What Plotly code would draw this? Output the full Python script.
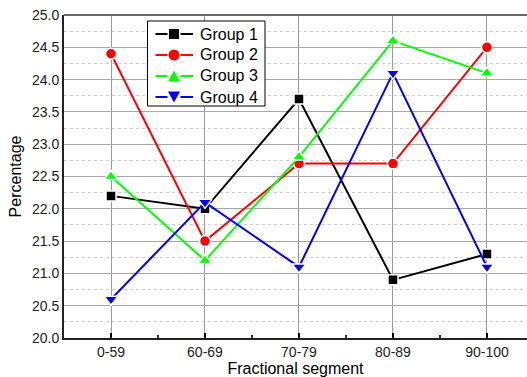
import plotly.graph_objects as go

categories = ["0-59", "60-69", "70-79", "80-89", "90-100"]
group1 = [22.2, 22.0, 23.7, 20.9, 21.3]
group2 = [24.4, 21.5, 22.7, 22.7, 24.5]
group3 = [22.5, 21.2, 22.8, 24.6, 24.1]
group4 = [20.6, 22.1, 21.1, 24.1, 21.1]
y_ticks = [20.0, 20.5, 21.0, 21.5, 22.0, 22.5, 23.0, 23.5, 24.0, 24.5, 25.0]

series = [
    ("Group 1", group1, "#000000", "square", 10),
    ("Group 2", group2, "#ff0000", "circle", 11),
    ("Group 3", group3, "#00ff00", "triangle-up", 12),
    ("Group 4", group4, "#0000ff", "triangle-down", 12),
]

W, H = 527, 377
ML, MR, MT, MB = 64, 0, 15, 39
PW, PH = W - ML - MR, H - MT - MB


def px(X):
    return (X - ML) / PW


def py(Y):
    return (H - MB - Y) / PH


fig = go.Figure()
xs = list(range(len(categories)))
for name, vals, col, sym, sz in series:
    fig.add_trace(go.Scatter(
        x=xs, y=vals, name=name, mode="lines+markers",
        line=dict(color=col, width=2),
        marker=dict(symbol=sym, size=sz, color=col, line=dict(color="white", width=1.5)),
        showlegend=False,
    ))

font = "Liberation Sans, Arial, sans-serif"

shapes = []
annotations = []
# top border line
shapes.append(dict(type="line", xref="paper", yref="paper", x0=0, x1=1, y0=1, y1=1,
                   line=dict(color="#666666", width=2)))

# custom legend (layout, built from the series list)
bx0, bx1, by0, by1 = 147.5, 265, 21, 106
shapes.append(dict(type="rect", xref="paper", yref="paper",
                   x0=px(bx0), x1=px(bx1), y0=py(by1), y1=py(by0),
                   line=dict(color="#000000", width=1), fillcolor="white", layer="above"))
for i, (name, vals, col, sym, sz) in enumerate(series):
    cy = 34 + 21 * i
    cx = 174
    for (a, b) in [(155.5, 167.5), (180.5, 193)]:
        shapes.append(dict(type="line", xref="paper", yref="paper",
                           x0=px(a), x1=px(b), y0=py(cy), y1=py(cy),
                           line=dict(color=col, width=2)))
    if sym == "square":
        r = 5
        shapes.append(dict(type="rect", xref="paper", yref="paper",
                           x0=px(cx - r), x1=px(cx + r), y0=py(cy + r), y1=py(cy - r),
                           line=dict(width=0), fillcolor=col))
    elif sym == "circle":
        r = 5.5
        shapes.append(dict(type="circle", xref="paper", yref="paper",
                           x0=px(cx - r), x1=px(cx + r), y0=py(cy + r), y1=py(cy - r),
                           line=dict(width=0), fillcolor=col))
    else:
        hw, hh = 6, 5.5
        if sym == "triangle-up":
            pts = [(cx - hw, cy + hh), (cx + hw, cy + hh), (cx, cy - hh)]
        else:
            pts = [(cx - hw, cy - hh), (cx + hw, cy - hh), (cx, cy + hh)]
        path = "M " + " L ".join(f"{px(a):.5f},{py(b):.5f}" for a, b in pts) + " Z"
        shapes.append(dict(type="path", xref="paper", yref="paper", path=path,
                           line=dict(width=0), fillcolor=col))
    annotations.append(dict(xref="paper", yref="paper", x=px(198), y=py(cy),
                            xanchor="left", yanchor="middle", text=name, showarrow=False,
                            font=dict(size=16, color="#000000", family=font)))

fig.update_layout(
    width=W, height=H,
    margin=dict(l=ML, r=MR, t=MT, b=MB),
    paper_bgcolor="white", plot_bgcolor="white",
    font=dict(family=font, size=14, color="#222222"),
    showlegend=False,
    shapes=shapes,
    annotations=annotations,
    xaxis=dict(
        range=[-0.5, 4.426],
        tickmode="array", tickvals=xs, ticktext=categories,
        showgrid=True, gridcolor="#9a9a9a", gridwidth=1.2,
        showline=True, linecolor="#222222", linewidth=2,
        mirror=False,
        ticks="inside", ticklen=5, tickcolor="#000000", tickwidth=1.5,
        minor=dict(tickvals=[0.5, 1.5, 2.5, 3.5], ticks="inside", ticklen=3,
                   tickcolor="#333333", showgrid=False),
        title=dict(text="Fractional segment", font=dict(size=16, color="#000000"), standoff=2),
        tickfont=dict(size=14),
        zeroline=False,
    ),
    yaxis=dict(
        range=[20.0, 25.0],
        tickmode="array", tickvals=y_ticks, ticktext=[f"{v:.1f}" for v in y_ticks],
        showgrid=True, gridcolor="#a8a8a8", gridwidth=1.2,
        showline=True, linecolor="#222222", linewidth=2,
        ticks="",
        minor=dict(dtick=0.25, showgrid=True, gridcolor="#d0d0d0", griddash="dot", gridwidth=1),
        title=dict(text="Percentage", font=dict(size=16, color="#000000"), standoff=6),
        tickfont=dict(size=14),
        zeroline=False,
    ),
)

fig.write_html("out.html")
